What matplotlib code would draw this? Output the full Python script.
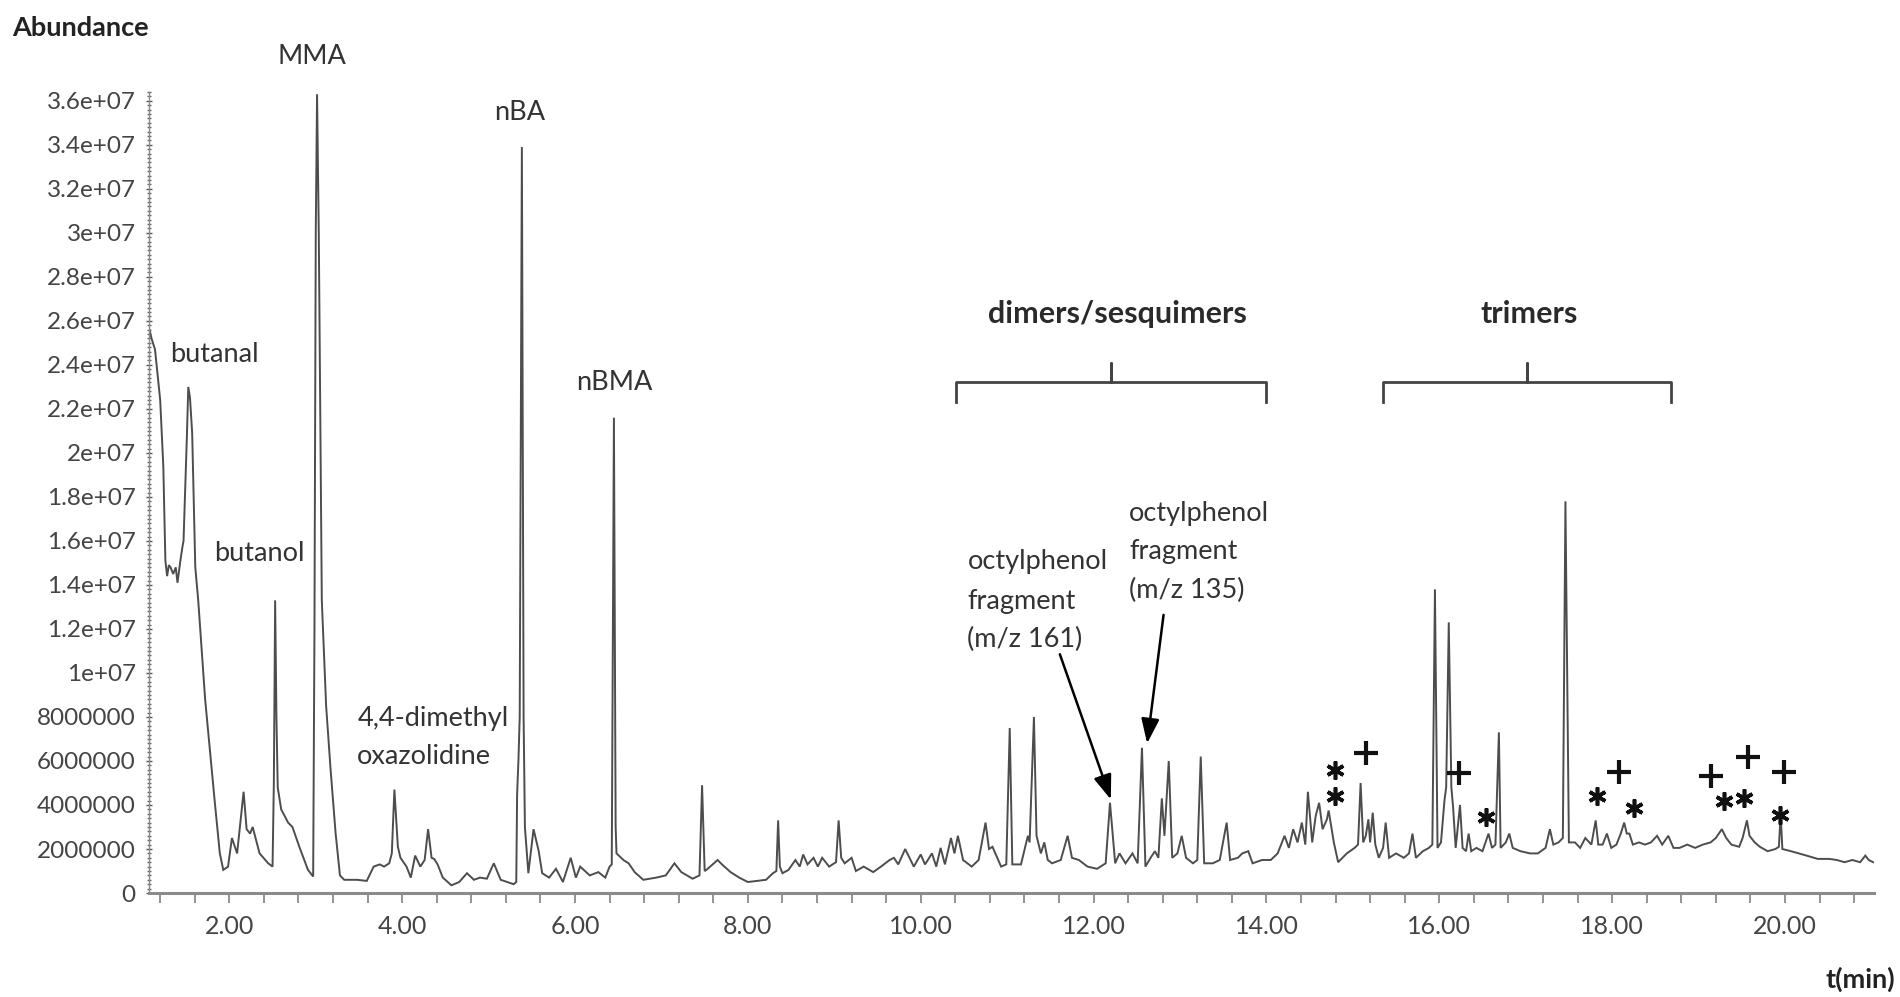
import matplotlib
matplotlib.use("Agg")
import matplotlib.pyplot as plt
from matplotlib.ticker import MultipleLocator, FixedLocator, FixedFormatter

plt.rcParams['font.family'] = ['Lato', 'DejaVu Sans']

# ---------------- data ----------------
time_min = [
    1.075, 1.10, 1.14, 1.20, 1.236, 1.26, 1.28, 1.30, 1.32, 1.35, 1.38, 1.40, 1.43, 1.456, 1.47,
    1.51, 1.525, 1.545, 1.57, 1.606, 1.64, 1.72, 1.83, 1.89, 1.93, 1.985, 2.03, 2.09, 2.165, 2.20,
    2.24, 2.27, 2.35, 2.45, 2.50, 2.515, 2.53, 2.545, 2.56, 2.60, 2.68, 2.73, 2.81, 2.91, 2.97,
    2.985, 3.00, 3.015, 3.035, 3.07, 3.12, 3.17, 3.23, 3.28, 3.33, 3.48, 3.59, 3.67, 3.74, 3.79,
    3.85, 3.88, 3.91, 3.95, 3.98, 4.05, 4.10, 4.15, 4.21, 4.26, 4.30, 4.34, 4.37, 4.41, 4.47,
    4.57, 4.66, 4.75, 4.83, 4.90, 4.98, 5.06, 5.14, 5.29, 5.32, 5.33, 5.345, 5.36, 5.385, 5.405,
    5.42, 5.46, 5.52, 5.58, 5.62, 5.70, 5.78, 5.86, 5.95, 6.01, 6.06, 6.17, 6.27, 6.35, 6.40,
    6.425, 6.45, 6.47, 6.48, 6.56, 6.62, 6.69, 6.79, 6.94, 7.05, 7.15, 7.23, 7.36, 7.44, 7.47,
    7.50, 7.52, 7.65, 7.70, 7.80, 7.90, 8.00, 8.21, 8.29, 8.33, 8.35, 8.37, 8.40, 8.47, 8.55,
    8.60, 8.64, 8.69, 8.76, 8.81, 8.86, 8.94, 9.02, 9.05, 9.08, 9.12, 9.20, 9.25, 9.34, 9.45,
    9.54, 9.64, 9.69, 9.74, 9.82, 9.87, 9.92, 10.00, 10.05, 10.13, 10.18, 10.23, 10.28, 10.35, 10.39,
    10.43, 10.49, 10.59, 10.67, 10.75, 10.79, 10.83, 10.93, 10.99, 11.03, 11.06, 11.16, 11.24, 11.26, 11.31,
    11.34, 11.39, 11.43, 11.47, 11.52, 11.62, 11.70, 11.75, 11.83, 11.93, 12.04, 12.14, 12.19, 12.25, 12.30,
    12.37, 12.45, 12.51, 12.56, 12.60, 12.66, 12.71, 12.75, 12.79, 12.82, 12.87, 12.91, 12.97, 13.02, 13.07,
    13.15, 13.20, 13.24, 13.28, 13.38, 13.46, 13.54, 13.58, 13.67, 13.72, 13.79, 13.84, 13.95, 14.05, 14.13,
    14.21, 14.26, 14.31, 14.36, 14.41, 14.45, 14.48, 14.53, 14.57, 14.61, 14.65, 14.70, 14.72, 14.78, 14.83,
    14.93, 15.02, 15.06, 15.09, 15.12, 15.15, 15.18, 15.20, 15.23, 15.26, 15.30, 15.35, 15.38, 15.42, 15.50,
    15.59, 15.65, 15.69, 15.73, 15.81, 15.88, 15.92, 15.95, 15.98, 16.02, 16.06, 16.08, 16.11, 16.14, 16.16,
    16.19, 16.24, 16.27, 16.31, 16.34, 16.37, 16.43, 16.50, 16.57, 16.61, 16.65, 16.69, 16.71, 16.77, 16.81,
    16.85, 16.94, 17.05, 17.14, 17.23, 17.28, 17.32, 17.38, 17.43, 17.46, 17.50, 17.57, 17.63, 17.69, 17.76,
    17.81, 17.84, 17.89, 17.94, 17.99, 18.05, 18.10, 18.14, 18.17, 18.20, 18.24, 18.31, 18.38, 18.45, 18.52,
    18.58, 18.65, 18.71, 18.78, 18.87, 18.96, 19.05, 19.14, 19.20, 19.27, 19.32, 19.38, 19.47, 19.51, 19.56,
    19.59, 19.65, 19.71, 19.80, 19.89, 19.93, 19.95, 19.97, 20.07, 20.16, 20.25, 20.38, 20.51, 20.60, 20.69,
    20.78, 20.87, 20.93, 20.97, 21.02,
]
abundance = [
    25.6e6, 25.2e6, 24.7e6, 22.4e6, 19.4e6, 15.1e6, 14.4e6, 14.9e6, 14.8e6, 14.5e6, 14.8e6, 14.1e6, 15.0e6, 15.7e6, 16.0e6,
    20.9e6, 23.0e6, 22.5e6, 20.9e6, 14.8e6, 13.3e6, 8.8e6, 4.2e6, 1.8e6, 1.05e6, 1.2e6, 2.5e6, 1.8e6, 4.6e6, 2.9e6,
    2.7e6, 3.0e6, 1.8e6, 1.35e6, 1.2e6, 5.0e6, 13.3e6, 8.0e6, 4.8e6, 3.8e6, 3.2e6, 3.0e6, 2.1e6, 1.05e6, 0.75e6,
    12.0e6, 30.0e6, 36.3e6, 30.0e6, 13.3e6, 8.5e6, 5.7e6, 2.7e6, 0.8e6, 0.6e6, 0.6e6, 0.55e6, 1.2e6, 1.3e6, 1.2e6,
    1.35e6, 1.8e6, 4.7e6, 2.1e6, 1.6e6, 1.2e6, 0.7e6, 1.7e6, 1.2e6, 1.5e6, 2.9e6, 1.6e6, 1.55e6, 1.3e6, 0.7e6,
    0.35e6, 0.5e6, 0.9e6, 0.6e6, 0.7e6, 0.65e6, 1.35e6, 0.6e6, 0.4e6, 0.5e6, 4.5e6, 6.0e6, 8.0e6, 33.9e6, 8.0e6,
    3.0e6, 0.9e6, 2.9e6, 1.9e6, 0.9e6, 0.7e6, 1.1e6, 0.5e6, 1.6e6, 0.7e6, 1.2e6, 0.8e6, 0.95e6, 0.7e6, 1.2e6,
    1.3e6, 21.6e6, 3.0e6, 1.8e6, 1.5e6, 1.35e6, 0.95e6, 0.6e6, 0.7e6, 0.8e6, 1.35e6, 0.95e6, 0.65e6, 0.8e6, 4.9e6,
    1.0e6, 1.05e6, 1.5e6, 1.3e6, 0.95e6, 0.7e6, 0.5e6, 0.6e6, 0.9e6, 1.0e6, 3.3e6, 1.2e6, 0.9e6, 1.05e6, 1.5e6,
    1.2e6, 1.75e6, 1.3e6, 1.6e6, 1.2e6, 1.6e6, 1.2e6, 1.4e6, 3.3e6, 1.6e6, 1.35e6, 1.6e6, 1.0e6, 1.2e6, 0.95e6,
    1.2e6, 1.5e6, 1.6e6, 1.3e6, 2.0e6, 1.6e6, 1.2e6, 1.75e6, 1.3e6, 1.8e6, 1.2e6, 2.05e6, 1.3e6, 2.5e6, 1.8e6,
    2.6e6, 1.5e6, 1.2e6, 1.5e6, 3.2e6, 2.0e6, 2.1e6, 1.2e6, 1.3e6, 7.5e6, 1.3e6, 1.3e6, 2.6e6, 2.3e6, 8.0e6,
    2.6e6, 1.8e6, 2.3e6, 1.5e6, 1.35e6, 1.5e6, 2.6e6, 1.6e6, 1.5e6, 1.2e6, 1.1e6, 1.35e6, 4.1e6, 1.35e6, 1.8e6,
    1.35e6, 1.8e6, 1.35e6, 6.6e6, 1.2e6, 1.6e6, 1.9e6, 1.6e6, 4.3e6, 2.6e6, 6.0e6, 1.6e6, 1.8e6, 2.6e6, 1.6e6,
    1.35e6, 1.5e6, 6.2e6, 1.35e6, 1.35e6, 1.5e6, 3.2e6, 1.5e6, 1.6e6, 1.8e6, 1.9e6, 1.35e6, 1.5e6, 1.5e6, 1.8e6,
    2.6e6, 2.05e6, 2.9e6, 2.3e6, 3.2e6, 2.2e6, 4.6e6, 2.3e6, 3.5e6, 4.1e6, 2.9e6, 3.35e6, 3.75e6, 2.3e6, 1.4e6,
    1.8e6, 2.05e6, 2.2e6, 5.0e6, 2.3e6, 2.6e6, 3.35e6, 2.3e6, 3.65e6, 2.2e6, 1.6e6, 2.05e6, 3.2e6, 1.6e6, 1.8e6,
    1.6e6, 1.8e6, 2.7e6, 1.6e6, 1.9e6, 2.05e6, 2.2e6, 13.8e6, 2.05e6, 2.3e6, 4.2e6, 4.8e6, 12.3e6, 4.8e6, 3.9e6,
    2.05e6, 4.0e6, 2.05e6, 1.9e6, 2.7e6, 1.9e6, 2.05e6, 1.9e6, 2.7e6, 2.05e6, 2.2e6, 7.3e6, 2.05e6, 2.3e6, 2.7e6,
    2.05e6, 1.9e6, 1.8e6, 1.8e6, 2.05e6, 2.9e6, 2.2e6, 2.3e6, 2.5e6, 17.8e6, 2.3e6, 2.3e6, 2.05e6, 2.5e6, 2.2e6,
    3.3e6, 2.2e6, 2.2e6, 2.7e6, 2.05e6, 2.2e6, 2.7e6, 3.2e6, 2.7e6, 2.7e6, 2.2e6, 2.3e6, 2.2e6, 2.3e6, 2.6e6,
    2.2e6, 2.6e6, 2.05e6, 2.05e6, 2.2e6, 2.05e6, 2.2e6, 2.3e6, 2.5e6, 2.9e6, 2.5e6, 2.2e6, 2.1e6, 2.5e6, 3.3e6,
    2.6e6, 2.3e6, 2.1e6, 1.9e6, 2.0e6, 2.1e6, 3.6e6, 2.0e6, 1.9e6, 1.8e6, 1.7e6, 1.55e6, 1.55e6, 1.5e6, 1.4e6,
    1.5e6, 1.4e6, 1.7e6, 1.5e6, 1.4e6,
]

x_ticks = [2, 4, 6, 8, 10, 12, 14, 16, 18, 20]
x_tick_labels = ["2.00", "4.00", "6.00", "8.00", "10.00", "12.00", "14.00", "16.00", "18.00", "20.00"]
y_ticks = [0, 2e6, 4e6, 6e6, 8e6, 1e7, 1.2e7, 1.4e7, 1.6e7, 1.8e7, 2e7, 2.2e7, 2.4e7,
           2.6e7, 2.8e7, 3e7, 3.2e7, 3.4e7, 3.6e7]
y_tick_labels = ["0", "2000000", "4000000", "6000000", "8000000", "1e+07", "1.2e+07", "1.4e+07",
                 "1.6e+07", "1.8e+07", "2e+07", "2.2e+07", "2.4e+07", "2.6e+07", "2.8e+07",
                 "3e+07", "3.2e+07", "3.4e+07", "3.6e+07"]

# peak labels: (text, t, abundance, ha)
peak_labels = [
    ("MMA", 2.96, 38.0e6, "center"),
    ("butanal", 1.317, 24.45e6, "left"),
    ("butanol", 1.82, 15.45e6, "left"),
    ("4,4-dimethyl", 3.48, 7.95e6, "left"),
    ("oxazolidine", 3.48, 6.2e6, "left"),
    ("nBA", 5.36, 35.45e6, "center"),
    ("nBMA", 6.46, 23.2e6, "center"),
    ("octylphenol", 10.54, 15.06e6, "left"),
    ("fragment", 10.54, 13.24e6, "left"),
    ("(m/z 161)", 10.54, 11.5e6, "left"),
    ("octylphenol", 12.41, 17.26e6, "left"),
    ("fragment", 12.41, 15.51e6, "left"),
    ("(m/z 135)", 12.41, 13.77e6, "left"),
]
# arrows: (start t, start abundance, tip t, tip abundance)
arrows = [
    (11.61, 10.85e6, 12.20, 4.25e6),
    (12.81, 12.64e6, 12.62, 6.8e6),
]
# group brackets: (label, left t, right t, centre t, label t)
groups = [
    ("dimers/sesquimers", 10.41, 14.00, 12.20, 12.28),
    ("trimers", 15.35, 18.68, 17.02, 17.04),
]
star_t = [14.79, 14.79, 16.54, 17.83, 18.25, 19.29, 19.53, 19.94]
star_v = [5.6e6, 4.4e6, 3.45e6, 4.4e6, 3.85e6, 4.2e6, 4.3e6, 3.55e6]
plus_t = [15.15, 16.23, 18.08, 19.15, 19.57, 19.99]
plus_v = [6.35e6, 5.45e6, 5.5e6, 5.3e6, 6.2e6, 5.5e6]

# ---------------- figure ----------------
fig = plt.figure(figsize=(19, 9.97), dpi=100)
ax = fig.add_axes([0.0784, 0.1043, 0.9079, 0.8034])

trace_color = "#4d4d4d"
axis_color = "#8a8a8a"
text_color = "#333333"

ax.plot(time_min, abundance, color=trace_color, lw=1.4, solid_joinstyle="miter")

ax.set_xlim(1.07, 21.03)
ax.set_ylim(0, 3.64e7)

for s in ("top", "right"):
    ax.spines[s].set_visible(False)
ax.spines["bottom"].set_color(axis_color)
ax.spines["bottom"].set_linewidth(2.2)
ax.spines["left"].set_color(axis_color)
ax.spines["left"].set_linewidth(1.0)

ax.xaxis.set_major_locator(FixedLocator(x_ticks))
ax.xaxis.set_major_formatter(FixedFormatter(x_tick_labels))
ax.xaxis.set_minor_locator(MultipleLocator(0.4))
ax.tick_params(axis="x", which="both", direction="out", length=7, width=1.3,
               color=axis_color, labelcolor="#444444", labelsize=18, pad=9)

ax.yaxis.set_major_locator(FixedLocator(y_ticks))
ax.yaxis.set_major_formatter(FixedFormatter(y_tick_labels))
ax.yaxis.set_minor_locator(MultipleLocator(2e5))
ax.tick_params(axis="y", which="major", direction="inout", length=5, width=1.0,
               color="#555555", labelcolor="#444444", labelsize=17.5, pad=7)
ax.tick_params(axis="y", which="minor", direction="inout", length=3, width=1.0,
               color="#666666")

for txt, t, v, ha in peak_labels:
    ax.text(t, v, txt, ha=ha, va="center", fontsize=19.5, color=text_color, clip_on=False)

for t0, v0, t1, v1 in arrows:
    ax.annotate("", xy=(t1, v1), xytext=(t0, v0),
                arrowprops=dict(arrowstyle="-|>,head_length=0.6,head_width=0.22",
                                color="black", lw=1.8, mutation_scale=25,
                                shrinkA=0, shrinkB=0))

for label, left, right, centre, lab_t in groups:
    y_h, y_end, y_tip = 23.2e6, 22.3e6, 24.1e6
    ax.plot([left, left, centre, centre, centre, right, right],
            [y_end, y_h, y_h, y_tip, y_h, y_h, y_end],
            color="#444444", lw=2.0, solid_joinstyle="round", clip_on=False)
    ax.text(lab_t, 26.3e6, label, ha="center", va="center", fontsize=22,
            fontweight="bold", color="#2a2a2a")

ax.plot(plus_t, plus_v, linestyle="none", marker="+", markersize=17, mew=3.0,
        color="#111111", clip_on=False)
ax.plot(star_t, star_v, linestyle="none", marker=(6, 2, 0), markersize=13, mew=2.6,
        color="#111111", clip_on=False)

fig.text(12 / 1900, 1 - 28 / 997, "Abundance", ha="left", va="center",
         fontsize=19.5, fontweight="bold", color="#222222")
fig.text(1895 / 1900, 1 - 979 / 997, "t(min)", ha="right", va="center",
         fontsize=19.5, fontweight="bold", color="#222222")

fig.savefig("out.png", dpi=100, facecolor="white")
